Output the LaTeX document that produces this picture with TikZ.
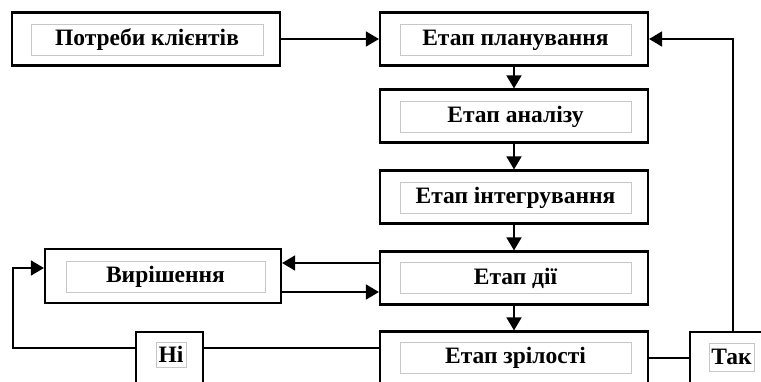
\documentclass[tikz,border=0pt]{standalone}
\usepackage{fontspec}
\setmainfont{Liberation Serif}
\usetikzlibrary{arrows.meta,calc}
\begin{document}
\begin{tikzpicture}[x=1pt,y=-1pt,
  outer/.style={draw=black,line width=2.2pt,fill=white,minimum width=268pt,minimum height=53pt,inner sep=0pt},
  inner/.style={draw=black!22,line width=0.9pt,minimum height=31pt,inner sep=0pt,font=\fontsize{23.5}{26}\selectfont\bfseries},
  conn/.style={line width=1.8pt},
  arr/.style={conn,-{Triangle[length=13pt,width=15pt]}}]
\clip (0,0) rectangle (761,381);
\fill[white] (0,0) rectangle (761,381);
% outer boxes
\node[outer] (potr) at (146,39) {};
\node[outer] (plan) at (514,39) {};
\node[outer] (anal) at (514,116) {};
\node[outer] (integ) at (514,197) {};
\node[outer] (dii) at (514,278) {};
\node[outer] (zril) at (514,358) {};
\node[outer,minimum width=236pt,minimum height=54pt] (vyr) at (163,276) {};
\node[outer,minimum width=67pt,minimum height=54pt] (ni) at (169.5,359) {};
\node[outer,minimum width=86pt,minimum height=54pt] (tak) at (733,359) {};
% inner label boxes
\node[inner,minimum width=232pt] (potrL) at (147,39.5) {Потреби клієнтів};
\node[inner,minimum width=231pt] (planL) at (515.5,40) {Етап планування};
\node[inner,minimum width=231pt] (analL) at (515.5,116.5) {Етап аналізу};
\node[inner,minimum width=231pt] (integL) at (515.5,197.5) {Етап інтегрування};
\node[inner,minimum width=231pt] (diiL) at (515.5,278) {Етап дії};
\node[inner,minimum width=231pt] (zrilL) at (515.5,358) {Етап зрілості};
\node[inner,minimum width=199pt] (vyrL) at (165.5,276.5) {Вирішення};
\node[inner,minimum width=30pt,minimum height=25pt] (niL) at (171,354.5) {Ні};
\node[inner,minimum width=45pt,minimum height=28pt] (takL) at (731.5,357) {Так};
% helper coordinates
\coordinate (yA) at (0,263);
\coordinate (yB) at (0,292);
\coordinate (yC) at (0,348);
\coordinate (yD) at (0,358);
\coordinate (yE) at (0,268);
\coordinate (lx) at (13,0);
% connectors
\draw[arr] (potr.east) -- (plan.west);
\draw[arr] (plan.south) -- (anal.north);
\draw[arr] (anal.south) -- (integ.north);
\draw[arr] (integ.south) -- (dii.north);
\draw[arr] (dii.south) -- (zril.north);
\draw[arr] (dii.west |- yA) -- (vyr.east |- yA);
\draw[arr] (vyr.east |- yB) -- (dii.west |- yB);
\draw[conn] (zril.west |- yC) -- (ni.east |- yC);
\draw[arr] (ni.west |- yC) -- (lx |- yC) -- (lx |- yE) -- (vyr.west |- yE);
\draw[conn] (zril.east |- yD) -- (tak.west |- yD);
\draw[arr] (tak.north) -- (tak.north |- plan.east) -- (plan.east);
\end{tikzpicture}
\end{document}
